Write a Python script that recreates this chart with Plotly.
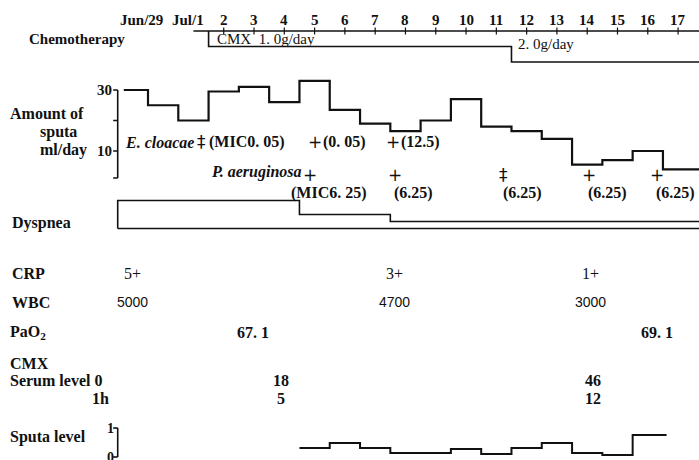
import plotly.graph_objects as go

W, H = 699, 460

# Horizontal scale: pixel position of day 0 (Jun/30) and width of one day
X_DAY0 = 163.15
PX_PER_DAY = 30.29

# ---------------- data ----------------
# Day index: Jun/29 = -1, Jun/30 = 0, Jul/1 = 1, Jul/2 = 2, ...
date_days = [-1, 1, 2, 3, 4, 5, 6, 7, 8, 9, 10, 11, 12, 13, 14, 15, 16, 17]
date_labels = ["Jun/29", "Jul/1", "2", "3", "4", "5", "6", "7", "8", "9",
               "10", "11", "12", "13", "14", "15", "16", "17"]

# CMX chemotherapy: start day, dose change day, doses (g/day)
cmx_start_day = 1.5
cmx_change_day = 11.5
cmx_doses = [1.0, 2.0]
cmx_dose_labels = ["CMX  1. 0g/day", "2. 0g/day"]

# Daily amount of sputa (ml/day)
sputum_days = list(range(-1, 18))
sputum_ml = [30, 25, 20, 29.5, 31, 26, 33, 23.5, 19, 16.5,
             20, 27, 18, 16.5, 14, 5.5, 7, 10, 4]

# Sputum cultures
ecl_days = [1.25, 5, 7.6]
ecl_grade = ["‡", "+", "+"]
ecl_mic = ["(MIC0. 05)", "(0. 05)", "(12.5)"]

pae_days = [4.85, 7.65, 11.25, 14.05, 16.3]
pae_grade = ["+", "+", "‡", "+", "+"]
pae_mic = ["(MIC6. 25)", "(6.25)", "(6.25)", "(6.25)", "(6.25)"]

# Dyspnea score, changing at the given day boundaries
dyspnea_change_days = [-1.5, 4.5, 7.5]
dyspnea_score = [4, 2, 1]

# Laboratory data
lab_days = [-1, 7.65, 14.1]
crp_values = ["5+", "3+", "1+"]
wbc_values = ["5000", "4700", "3000"]
pao2_days = [2.95, 16.3]
pao2_values = ["67. 1", "69. 1"]

# CMX serum level (0 h and 1 h)
serum_days = [3.9, 14.2]
serum_0h = ["18", "46"]
serum_1h = ["5", "12"]

# CMX sputa level
sputa_level_days = [5, 6, 7, 8, 9, 10, 11, 12, 13, 14, 15, 16]
sputa_level = [0.31, 0.48, 0.31, 0.14, 0.14, 0.28, 0.10, 0.31, 0.48, 0.14, 0.07, 0.76]

# ---------------- helpers ----------------
INK = "#111111"
SERIF = "Liberation Serif"
SIGN_FONT = "DejaVu Sans"
X_END = (W - X_DAY0) / PX_PER_DAY + 0.1


def py(px):
    """Paper y fraction for a pixel row measured from the top."""
    return 1 - px / H


def band(top_px, bottom_px):
    return [py(bottom_px), py(top_px)]


def step_path(days, values, start=None, end=None):
    xs = [d - 0.5 for d in days] + [days[-1] + 0.5 if end is None else end]
    if start is not None:
        xs[0] = start
    ys = list(values) + [values[-1]]
    return xs, ys


fig = go.Figure()
line = dict(color=INK, width=1.6)

# Chemotherapy: date baseline and dose bracket (axis y)
fig.add_trace(go.Scatter(x=[1.0, X_END], y=[0, 0], mode="lines", yaxis="y",
                         line=dict(color=INK, width=1.6), hoverinfo="skip"))
fig.add_trace(go.Scatter(
    x=[cmx_start_day, cmx_start_day, cmx_change_day, cmx_change_day, X_END],
    y=[0, cmx_doses[0], cmx_doses[0], cmx_doses[1], cmx_doses[1]],
    mode="lines", yaxis="y", line=line, hoverinfo="skip"))
fig.add_trace(go.Scatter(x=date_days[2:], y=[0] * len(date_days[2:]), mode="markers",
                         yaxis="y", marker=dict(symbol="line-ns", size=5,
                                                line=dict(color=INK, width=1.2)),
                         hoverinfo="skip"))

# Amount of sputa (axis y2)
sx, sy = step_path(sputum_days, sputum_ml, start=-1.3, end=X_END)
fig.add_trace(go.Scatter(x=sx, y=sy, mode="lines", line_shape="hv", yaxis="y2",
                         line=dict(color=INK, width=2.2), hoverinfo="skip"))

# Dyspnea (axis y3): stepped outline over a baseline
dx, dy = [], []
prev = 0
for d, s in zip(dyspnea_change_days, dyspnea_score):
    dx += [d, d]
    dy += [prev, s]
    prev = s
dx.append(X_END)
dy.append(prev)
fig.add_trace(go.Scatter(x=dx, y=dy, mode="lines", yaxis="y3", line=line, hoverinfo="skip"))
fig.add_trace(go.Scatter(x=[dyspnea_change_days[0], X_END], y=[0, 0], mode="lines",
                         yaxis="y3", line=line, hoverinfo="skip"))

# Sputa level (axis y4)
lx, ly = step_path(sputa_level_days, sputa_level, end=16.62)
fig.add_trace(go.Scatter(x=lx, y=ly, mode="lines", line_shape="hv", yaxis="y4",
                         line=dict(color=INK, width=2.0), hoverinfo="skip"))

# ---------------- bracket axes ----------------
shapes = []


def seg(x0, y0, x1, y1, yref, w=1.6):
    shapes.append(dict(type="line", xref="x", yref=yref, x0=x0, y0=y0, x1=x1, y1=y1,
                       line=dict(color=INK, width=w)))


AX = -1.5
TICK = 0.15
seg(AX, 1.15, AX, 30, "y2")
for v in [30, 20, 10, 1.15]:
    seg(AX - TICK, v, AX, v, "y2")
seg(AX, 0, AX, 1, "y4")
for v in [0, 1]:
    seg(AX - TICK, v, AX, v, "y4")

# ---------------- text ----------------
ann = []


def txt(x, y, text, xref="paper", anchor="left", size=16, family=SERIF, xshift=0,
        yref="paper", bold=True):
    if bold:
        text = "<b>" + text + "</b>"
    ann.append(dict(x=x, y=y, xref=xref, yref=yref, text=text, showarrow=False,
                    xanchor=anchor, yanchor="middle", xshift=xshift,
                    font=dict(family=family, size=size, color=INK)))


def px_x(px):
    return px / W


# Dates
for d, lab in zip(date_days, date_labels):
    shift = {"Jun/29": 9, "Jul/1": -5}.get(lab, 0)
    txt(d, py(20), lab, xref="x", anchor="center", size=15, xshift=shift)

# Row labels
txt(px_x(27), py(39), "Chemotherapy", size=15)
txt(px_x(8), py(113), "Amount of", size=16)
txt(px_x(58), py(132), "sputa", anchor="center", size=16)
txt(px_x(38), py(150), "ml/day", size=16)
txt(px_x(10), py(223), "Dyspnea", size=16)
txt(px_x(10), py(273), "CRP", size=16)
txt(px_x(10), py(302), "WBC", size=16)
txt(px_x(8), py(332), "PaO<sub>2</sub>", size=16)
txt(px_x(8), py(363), "CMX", size=16)
txt(px_x(8), py(380), "Serum level 0", size=16)
txt(px_x(90), py(398), "1h", size=16)
txt(px_x(8), py(437), "Sputa level", size=16)

# Chemotherapy dose labels
txt(cmx_start_day, py(39), cmx_dose_labels[0], xref="x", size=15, xshift=6, bold=False)
txt(cmx_change_day, py(44), cmx_dose_labels[1], xref="x", size=15, xshift=5, bold=False)

# Sputum axis labels
for v in [30, 10]:
    txt(AX, v, str(v), xref="x", yref="y2", anchor="right", size=15, xshift=-4)
for v in [1, 0]:
    txt(AX, v, str(v), xref="x", yref="y4", anchor="right", size=14, xshift=-2)

# E. cloacae cultures
txt(ecl_days[0], py(142), "<i>E. cloacae</i>", xref="x", anchor="right", size=16, xshift=-5)
for d, g, m in zip(ecl_days, ecl_grade, ecl_mic):
    txt(d, py(142), g, xref="x", anchor="center", size=17, family=SIGN_FONT, bold=False)
    txt(d, py(142), m, xref="x", anchor="left", size=16, xshift=6)

# P. aeruginosa cultures
txt(pae_days[0], py(172), "<i>P. aeruginosa</i>", xref="x", anchor="right", size=16, xshift=-6)
for d, g, m in zip(pae_days, pae_grade, pae_mic):
    txt(d, py(175), g, xref="x", anchor="center", size=17, family=SIGN_FONT, bold=False)
    txt(d, py(193), m, xref="x", anchor="center", size=16, xshift=19)

# Laboratory values
for d, c, w in zip(lab_days, crp_values, wbc_values):
    txt(d, py(273), c, xref="x", anchor="center", size=16, bold=False)
    txt(d, py(302), w, xref="x", anchor="center", size=14, family="Liberation Sans", bold=False)
for d, v in zip(pao2_days, pao2_values):
    txt(d, py(332), v, xref="x", anchor="center", size=16)
for d, a, b in zip(serum_days, serum_0h, serum_1h):
    txt(d, py(380), a, xref="x", anchor="center", size=16)
    txt(d, py(398), b, xref="x", anchor="center", size=16)

hidden = dict(visible=False, fixedrange=True)
fig.update_layout(
    width=W, height=H, autosize=False,
    margin=dict(l=0, r=0, t=0, b=0),
    paper_bgcolor="white", plot_bgcolor="white",
    showlegend=False,
    xaxis=dict(range=[-X_DAY0 / PX_PER_DAY, (W - X_DAY0) / PX_PER_DAY], domain=[0, 1], **hidden),
    # chemo dose: 0 at 31 px, 15.5 px per g/day, downward
    yaxis=dict(domain=band(26.35, 69.75), range=[2.5, -0.3], anchor="x", **hidden),
    # sputa amount: 30 ml at 90 px, 10 ml at 151 px
    yaxis2=dict(domain=band(71.7, 181.5), range=[0, 36], anchor="x", **hidden),
    # dyspnea score: 0 at 228.5 px, 7 px per point
    yaxis3=dict(domain=band(193.5, 232), range=[-0.5, 5], anchor="x", **hidden),
    # sputa level: 0 at 457 px, 1 at 428 px
    yaxis4=dict(domain=band(420, 460), range=[-0.1034, 1.2759], anchor="x", **hidden),
    shapes=shapes,
    annotations=ann,
)

fig.write_html("out.html")
